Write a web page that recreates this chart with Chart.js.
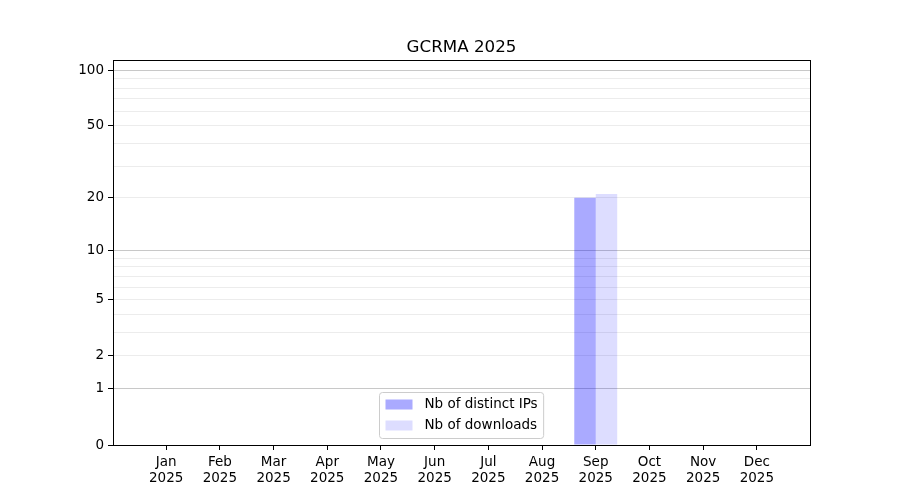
<!DOCTYPE html>
<html>
<head>
<meta charset="utf-8">
<script src="https://cdn.jsdelivr.net/npm/chart.js@4"></script>
<style>
  html, body { margin: 0; padding: 0; background: #fff; }
  #wrap { width: 900px; height: 500px; }
</style>
</head>
<body>
<div id="wrap"><canvas id="chart" width="900" height="500"></canvas></div>
<script>
const months = ['Jan', 'Feb', 'Mar', 'Apr', 'May', 'Jun', 'Jul', 'Aug', 'Sep', 'Oct', 'Nov', 'Dec'];
const year = '2025';
const distinctIPs = [0, 0, 0, 0, 0, 0, 0, 0, 20, 0, 0, 0];
const downloads = [0, 0, 0, 0, 0, 0, 0, 0, 21, 0, 0, 0];
const yTickLabels = [0, 1, 2, 5, 10, 20, 50, 100];
const yGridValues = [0, 1, 2, 3, 4, 5, 6, 7, 8, 9, 10, 20, 30, 40, 50, 60, 70, 80, 90, 100];
const yMajor = [1, 10, 100];
const yTop = 113.7;

// y axis is log10(1 + n)
const f = v => Math.log10(1 + v);
const FONT = 'DejaVu Sans';

const frame = {
    id: 'frame',
    afterDraw(chart) {
        const a = chart.chartArea, c = chart.ctx;
        c.save();
        c.strokeStyle = '#000';
        c.lineWidth = 1;
        c.strokeRect(Math.round(a.left) + 0.5, Math.round(a.top) + 0.5,
            Math.round(a.right - a.left), Math.round(a.bottom - a.top));

        // legend, lower centre of the plot
        const fs = 13.5;
        c.font = fs + 'px "' + FONT + '"';
        const sets = chart.data.datasets;
        const tw = Math.max(...sets.map(d => c.measureText(d.label).width));
        const pad = 6, hl = 27, hp = 12, rowH = 21;
        const w = pad + hl + hp + tw + 6;
        const h = 46;
        const x0 = Math.round((a.left + a.right) / 2 - w / 2) + 0.5;
        const y0 = Math.round(a.bottom - 7 - h) + 0.5;
        c.beginPath();
        c.roundRect(x0, y0, w, h, 3);
        c.fillStyle = 'rgba(255,255,255,0.8)';
        c.fill();
        c.strokeStyle = '#cccccc';
        c.stroke();
        sets.forEach((d, i) => {
            const cy = y0 + 12 + rowH * i;
            c.fillStyle = d.legendColor;
            c.fillRect(x0 + pad, cy - 5, hl, 10);
            c.fillStyle = '#000';
            c.textBaseline = 'middle';
            c.fillText(d.label, x0 + pad + hl + hp, cy);
        });
        c.restore();
    }
};

new Chart(document.getElementById('chart'), {
    type: 'bar',
    data: {
        datasets: [{
            label: 'Nb of distinct IPs',
            data: distinctIPs.map((v, i) => ({x: i, y: f(v)})),
            backgroundColor: 'rgba(0, 0, 255, 0.333)',
            legendColor: '#aaaaff'
        }, {
            label: 'Nb of downloads',
            data: downloads.map((v, i) => ({x: i, y: f(v)})),
            backgroundColor: 'rgba(0, 0, 255, 0.133)',
            legendColor: '#ddddff'
        }]
    },
    options: {
        responsive: false,
        animation: false,
        layout: {padding: {left: 0, right: 90, top: 0, bottom: 0}},
        datasets: {bar: {categoryPercentage: 0.8, barPercentage: 1.0}},
        plugins: {
            legend: {display: false},
            tooltip: {enabled: false},
            title: {
                display: true,
                fullSize: false,
                text: 'GCRMA 2025',
                color: '#000',
                font: {family: FONT, size: 16.7, weight: 'normal'},
                padding: {top: 38, bottom: 2}
            }
        },
        scales: {
            x: {
                type: 'linear',
                offset: false,
                min: -0.99,
                max: 11.99,
                afterBuildTicks: s => { s.ticks = months.map((m, i) => ({value: i})); },
                afterFit: s => { s.height = 55; },
                ticks: {
                    autoSkip: false,
                    maxRotation: 0,
                    color: '#000',
                    padding: 4,
                    font: {family: FONT, size: 13.5, lineHeight: 1.2},
                    callback: v => [months[v], year]
                },
                grid: {offset: false, drawOnChartArea: false, tickLength: 5, tickColor: '#000'},
                border: {color: '#000'}
            },
            y: {
                type: 'linear',
                min: 0,
                max: f(yTop),
                afterBuildTicks: s => { s.ticks = yGridValues.map(v => ({value: f(v), raw: v})); },
                afterFit: s => { s.width = 113; },
                ticks: {
                    autoSkip: false,
                    color: '#000',
                    padding: 4,
                    font: {family: FONT, size: 13.5},
                    callback: (v, i, t) => yTickLabels.includes(t[i].raw) ? String(t[i].raw) : ''
                },
                grid: {
                    tickLength: 5,
                    color: c => {
                        const r = c.tick && c.tick.raw;
                        if (r === 0) return 'rgba(0,0,0,0)';
                        return yMajor.includes(r) ? '#c8c8c8' : '#ececec';
                    },
                    tickColor: c => (c.tick && yTickLabels.includes(c.tick.raw)) ? '#000' : 'rgba(0,0,0,0)'
                },
                border: {color: '#000'}
            }
        }
    },
    plugins: [frame]
});
</script>
</body>
</html>
